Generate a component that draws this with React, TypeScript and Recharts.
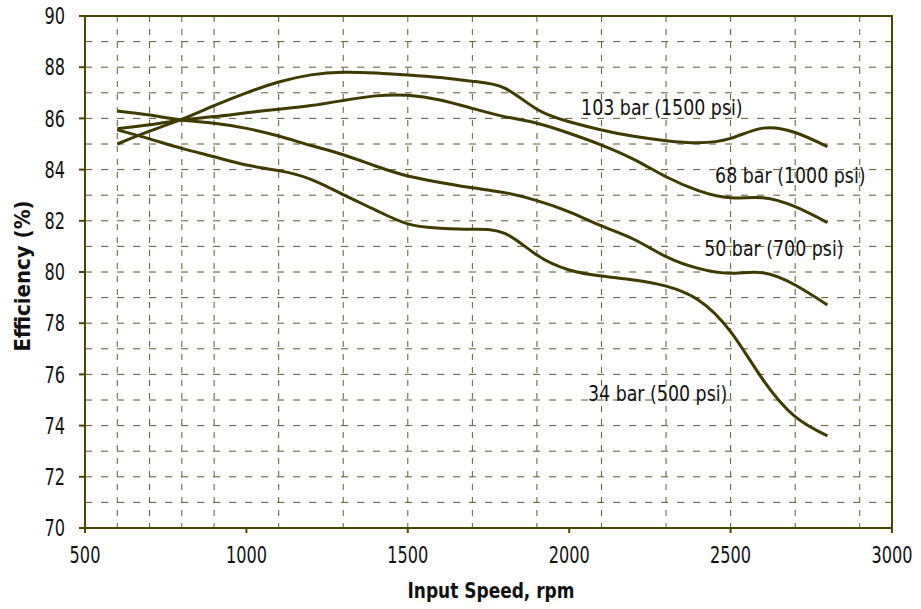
import { LineChart, Line, XAxis, YAxis, CartesianGrid, ReferenceArea, ReferenceDot, Label } from "recharts";

const rpm = [600, 700, 800, 900, 1000, 1100, 1200, 1300, 1400, 1500, 1600, 1700, 1800, 1900, 2000, 2100, 2200, 2300, 2400, 2500, 2600, 2700, 2800];

const bar103 = [85.0, 85.5, 85.97, 86.5, 87.0, 87.42, 87.7, 87.8, 87.77, 87.7, 87.6, 87.45, 87.18, 86.36, 85.87, 85.55, 85.3, 85.13, 85.05, 85.22, 85.62, 85.45, 84.9];
const bar68 = [85.6, 85.75, 85.94, 86.07, 86.22, 86.36, 86.5, 86.7, 86.88, 86.9, 86.72, 86.39, 86.07, 85.81, 85.42, 84.96, 84.4, 83.72, 83.18, 82.9, 82.9, 82.55, 81.93];
const bar50 = [86.29, 86.13, 85.94, 85.81, 85.61, 85.31, 84.94, 84.58, 84.14, 83.75, 83.5, 83.29, 83.1, 82.79, 82.35, 81.8, 81.28, 80.6, 80.14, 79.95, 79.97, 79.49, 78.71];
const bar34 = [85.55, 85.2, 84.83, 84.5, 84.18, 83.96, 83.62, 83.02, 82.42, 81.88, 81.71, 81.67, 81.51, 80.66, 80.08, 79.84, 79.69, 79.45, 78.91, 77.67, 75.8, 74.35, 73.6];

const seriesKeys = ["bar103", "bar68", "bar50", "bar34"];
const seriesLabels = [
	{ text: "103 bar (1500 psi)", x: 2287, y: 86.46 },
	{ text: "68 bar (1000 psi)", x: 2685, y: 83.79 },
	{ text: "50 bar (700 psi)", x: 2634, y: 80.94 },
	{ text: "34 bar (500 psi)", x: 2274, y: 75.27 },
];

const xTicks = [500, 1000, 1500, 2000, 2500, 3000];
const yTicks = [70, 72, 74, 76, 78, 80, 82, 84, 86, 88, 90];
const xGrid = [600, 700, 800, 900, 1000, 1100, 1200, 1300, 1400, 1500, 1600, 1700, 1800, 1900, 2000, 2100, 2200, 2300, 2400, 2500, 2600, 2700, 2800, 2900];
const yGrid = [71, 72, 73, 74, 75, 76, 77, 78, 79, 80, 81, 82, 83, 84, 85, 86, 87, 88, 89];

const data = rpm.map((r, i) => ({ rpm: r, bar103: bar103[i], bar68: bar68[i], bar50: bar50[i], bar34: bar34[i] }));

const FONT = "'DejaVu Sans Condensed', 'Liberation Sans Narrow', sans-serif";
const AXIS = "#4a4500";
const LINE = "#3f3a00";
const GRID = "#5e5b30";
const INK = "#111";

// condensed text: draw at a size, squeeze horizontally
function Narrow({ x, y, size, sx, anchor = "middle", dy = "0", bold = false, rotate = 0, children }: any) {
	return (
		<g transform={`translate(${x},${y}) rotate(${rotate}) scale(${sx},1)`}>
			<text x={0} y={0} dy={dy} textAnchor={anchor} fill={INK} fontSize={size} fontWeight={bold ? "bold" : "normal"} fontFamily={FONT}>
				{children}
			</text>
		</g>
	);
}

const XTick = (p: any) => (
	<Narrow x={p.x} y={p.y} size={23} sx={0.78} dy="0.71em">
		{p.payload.value}
	</Narrow>
);

const YTick = (p: any) => (
	<Narrow x={p.x} y={p.y} size={23} sx={0.78} anchor="end" dy="0.36em">
		{p.payload.value}
	</Narrow>
);

export default function App() {
	return (
		<div style={{ position: "absolute", left: 0, top: 0, width: 921, height: 609, background: "#fff" }}>
			<LineChart width={921} height={609} data={data} margin={{ top: 16, right: 29, bottom: 0, left: 0 }}>
				<CartesianGrid horizontal vertical={false} horizontalValues={yGrid} stroke={GRID} strokeDasharray="7 9" />
				<CartesianGrid horizontal={false} vertical verticalValues={xGrid} stroke={GRID} strokeDasharray="6 7" />
				<XAxis
					dataKey="rpm"
					type="number"
					domain={[500, 3000]}
					ticks={xTicks}
					height={81}
					stroke={AXIS}
					strokeWidth={2}
					tickSize={5}
					tickMargin={14}
					tick={XTick}
				>
					<Label
						content={() => (
							<Narrow x={491} y={598} size={21} sx={0.9} bold>
								Input Speed, rpm
							</Narrow>
						)}
					/>
				</XAxis>
				<YAxis
					type="number"
					domain={[70, 90]}
					ticks={yTicks}
					width={85}
					stroke={AXIS}
					strokeWidth={2}
					tickSize={6}
					tickMargin={14}
					tick={YTick}
				>
					<Label
						content={() => (
							<Narrow x={30} y={276} size={22} sx={1} bold rotate={-90}>
								Efficiency (%)
							</Narrow>
						)}
					/>
				</YAxis>
				<ReferenceArea x1={500} x2={3000} y1={70} y2={90} fill="none" stroke={AXIS} strokeWidth={2} />
				{seriesKeys.map((k) => (
					<Line key={k} type="natural" dataKey={k} stroke={LINE} strokeWidth={3} dot={false} isAnimationActive={false} />
				))}
				{seriesLabels.map((l) => (
					<ReferenceDot
						key={l.text}
						x={l.x}
						y={l.y}
						r={0}
						fill="none"
						stroke="none"
						label={(p: any) => (
							<Narrow x={p.viewBox.x + (p.viewBox.width || 0) / 2} y={p.viewBox.y + (p.viewBox.height || 0) / 2} size={22} sx={0.88} dy="0.36em">
								{l.text}
							</Narrow>
						)}
					/>
				))}
			</LineChart>
		</div>
	);
}
